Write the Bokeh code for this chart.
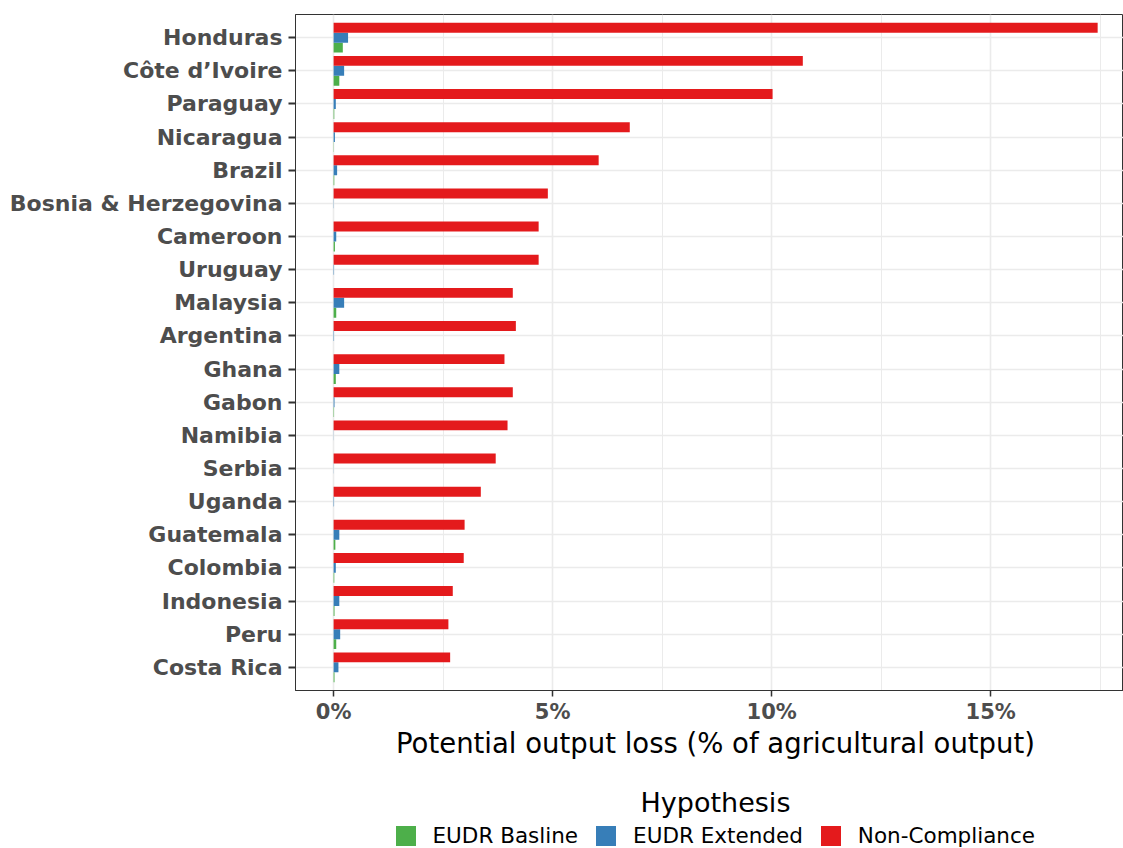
from bokeh.plotting import figure
from bokeh.layouts import column
from bokeh.models import (FactorRange, Range1d, FixedTicker, Legend, LegendItem,
                          Label, ColumnDataSource)
from bokeh.transform import dodge
from bokeh.embed import file_html
from bokeh.resources import INLINE

countries = ["Honduras", "Côte d’Ivoire", "Paraguay", "Nicaragua", "Brazil",
             "Bosnia & Herzegovina", "Cameroon", "Uruguay", "Malaysia", "Argentina",
             "Ghana", "Gabon", "Namibia", "Serbia", "Uganda", "Guatemala",
             "Colombia", "Indonesia", "Peru", "Costa Rica"]
non_compliance = [17.44, 10.71, 10.02, 6.76, 6.05, 4.89, 4.68, 4.68, 4.09, 4.16,
                  3.90, 4.09, 3.97, 3.70, 3.36, 2.99, 2.97, 2.72, 2.62, 2.66]
eudr_extended = [0.33, 0.24, 0.05, 0.03, 0.08, 0.005, 0.06, 0.01, 0.24, 0.01,
                 0.13, 0.02, 0.003, 0.003, 0.01, 0.13, 0.05, 0.13, 0.15, 0.11]
eudr_baseline = [0.21, 0.13, 0.015, 0.005, 0.015, 0.0, 0.03, 0.0, 0.06, 0.0,
                 0.05, 0.01, 0.0, 0.0, 0.0, 0.04, 0.015, 0.02, 0.06, 0.02]
series_names = ["EUDR Basline", "EUDR Extended", "Non-Compliance"]
series_colors = ["#4DAF4A", "#377EB8", "#E41A1C"]
x_ticks = [0, 5, 10, 15]
x_minor_ticks = [2.5, 7.5, 12.5, 17.5]
x_tick_labels = ["0%", "5%", "10%", "15%"]
x_title = "Potential output loss (% of agricultural output)"
legend_title = "Hypothesis"

FONT = "DejaVu Sans"
W = 1123
MAIN_H = 726
LEG_H = 848 - MAIN_H
FRAME_LEFT = 295

src = ColumnDataSource(dict(country=countries, base=eudr_baseline,
                            ext=eudr_extended, nc=non_compliance))

p = figure(width=W, height=MAIN_H,
           y_range=FactorRange(factors=countries[::-1], range_padding=0.2,
                               range_padding_units="absolute"),
           x_range=Range1d(-0.87, 18.03),
           output_backend="svg", toolbar_location=None,
           min_border_left=FRAME_LEFT, min_border_top=14, min_border_right=0,
           min_border_bottom=MAIN_H - 690)

cols = ["base", "ext", "nc"]
offsets = [-0.3, 0.0, 0.3]
for c, off, col in zip(cols, offsets, series_colors):
    p.hbar(y=dodge("country", off, range=p.y_range), left=0, right=c,
           height=0.3, fill_color=col, line_color=None, source=src)

p.outline_line_color = "#333333"
p.outline_line_width = 1

# grids
p.xgrid.ticker = FixedTicker(ticks=x_ticks, minor_ticks=x_minor_ticks)
p.xgrid.grid_line_color = "#EBEBEB"
p.xgrid.grid_line_width = 1.6
p.xgrid.minor_grid_line_color = "#EBEBEB"
p.xgrid.minor_grid_line_width = 1.0
p.ygrid.grid_line_color = "#EBEBEB"
p.ygrid.grid_line_width = 1.6

# x axis
xa = p.xaxis[0]
xa.ticker = FixedTicker(ticks=x_ticks)
xa.major_label_overrides = {t: l for t, l in zip(x_ticks, x_tick_labels)}
xa.major_label_text_font = FONT
xa.major_label_text_font_style = "bold"
xa.major_label_text_font_size = "21px"
xa.major_label_text_color = "#4D4D4D"
xa.major_tick_out = 6
xa.major_tick_in = 0
xa.minor_tick_out = 0
xa.minor_tick_in = 0
xa.major_tick_line_color = "#333333"
xa.major_tick_line_width = 1.5
xa.major_label_standoff = 3
xa.axis_line_color = "#333333"

# y axis
ya = p.yaxis[0]
ya.major_label_text_font = FONT
ya.major_label_text_font_style = "bold"
ya.major_label_text_font_size = "22px"
ya.major_label_text_color = "#4D4D4D"
ya.major_tick_out = 7
ya.major_tick_in = 0
ya.major_tick_line_color = "#333333"
ya.major_tick_line_width = 2
ya.major_label_standoff = 6
ya.axis_line_color = "#333333"

# strip below the chart: axis title, legend title, legend
# (its frame is aligned with the main frame; x data units = page pixels)
lp = figure(width=W, height=LEG_H, x_range=Range1d(FRAME_LEFT, W),
            y_range=Range1d(0, LEG_H),
            output_backend="svg", toolbar_location=None,
            min_border_left=FRAME_LEFT, min_border_right=0, min_border_top=0,
            min_border_bottom=0)
lp.axis.visible = False
lp.grid.visible = False
lp.outline_line_color = None

nan = float("nan")
leg_renderers = []
for col in series_colors:
    r = lp.hbar(y=[nan], left=[nan], right=[nan], height=1,
                fill_color=col, line_color=None)
    leg_renderers.append(r)

lp.add_layout(Label(x=715, y=848 - 742, text=x_title, text_align="center",
                    text_baseline="middle", text_font=FONT,
                    text_font_size="27.5px", text_color="black"))
lp.add_layout(Label(x=715, y=848 - 802, text=legend_title, text_align="center",
                    text_baseline="middle", text_font=FONT,
                    text_font_size="27px", text_color="black"))

items = [LegendItem(label=n, renderers=[r]) for n, r in zip(series_names, leg_renderers)]
leg = Legend(items=items, orientation="horizontal",
             location=(392.5 - FRAME_LEFT, 0),
             border_line_color=None, background_fill_alpha=0,
             glyph_width=25, glyph_height=25, label_standoff=15, spacing=15,
             label_text_font=FONT, label_text_font_size="21.5px",
             label_text_color="black", padding=0, margin=0)
lp.add_layout(leg)

layout = column(p, lp, spacing=0)
open("out.html", "w").write(file_html(layout, INLINE))
